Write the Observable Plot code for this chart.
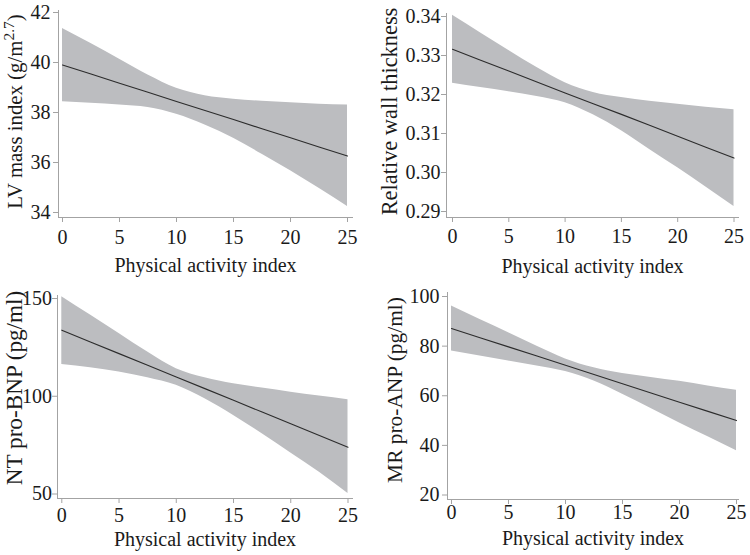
<!DOCTYPE html>
<html>
<head>
<meta charset="utf-8">
<script src="https://cdn.jsdelivr.net/npm/d3@7"></script>
<script src="https://cdn.jsdelivr.net/npm/@observablehq/plot@0.6"></script>
<style>
  html, body { margin: 0; padding: 0; background: #ffffff; }
  #wrap { position: relative; width: 750px; height: 555px; overflow: hidden; }
  .panel { position: absolute; }
</style>
</head>
<body>
<div id="wrap"></div>
<script>
// ---- data ----
const activity = [0, 2.5, 5, 7.5, 10, 12.5, 15, 17.5, 20, 22.5, 25];
const activityTicks = [0, 5, 10, 15, 20, 25];
const xLabel = "Physical activity index";

// LV mass index (g/m^2.7)
const lvmiFit   = [39.90, 39.54, 39.17, 38.81, 38.44, 38.08, 37.72, 37.35, 36.99, 36.62, 36.26];
const lvmiUpper = [41.36, 40.76, 40.13, 39.50, 38.97, 38.67, 38.53, 38.45, 38.39, 38.33, 38.30];
const lvmiLower = [38.43, 38.37, 38.30, 38.20, 37.93, 37.50, 36.97, 36.33, 35.67, 34.97, 34.24];
const lvmiTicks = [34, 36, 38, 40, 42];

// Relative wall thickness
const rwtFit   = [0.3316, 0.3288, 0.3260, 0.3232, 0.3204, 0.3176, 0.3149, 0.3121, 0.3093, 0.3065, 0.3037];
const rwtUpper = [0.3403, 0.3358, 0.3313, 0.3269, 0.3230, 0.3205, 0.3192, 0.3183, 0.3175, 0.3167, 0.3161];
const rwtLower = [0.3229, 0.3218, 0.3207, 0.3195, 0.3179, 0.3148, 0.3107, 0.3059, 0.3012, 0.2963, 0.2913];
const rwtTicks = [0.29, 0.30, 0.31, 0.32, 0.33, 0.34];

// NT pro-BNP (pg/ml)
const bnpFit   = [133.8, 127.8, 121.8, 115.8, 109.8, 103.9, 97.9, 91.9, 85.9, 79.9, 73.9];
const bnpUpper = [150.9, 141.5, 132.1, 122.6, 114.1, 109.5, 106.4, 104.2, 102.1, 100.1, 98.2];
const bnpLower = [116.3, 114.6, 112.4, 109.5, 105.6, 98.7, 90.2, 80.8, 71.0, 61.1, 50.3];
const bnpTicks = [50, 100, 150];

// MR pro-ANP (pg/ml)
const anpFit   = [87.1, 83.4, 79.7, 76.0, 72.3, 68.6, 64.8, 61.1, 57.4, 53.7, 50.0];
const anpUpper = [96.15, 90.75, 85.4, 79.9, 74.85, 71.25, 68.95, 67.35, 65.8, 63.95, 62.2];
const anpLower = [78.05, 76.05, 74.0, 72.0, 69.75, 65.95, 60.65, 54.85, 49.0, 43.45, 37.8];
const anpTicks = [20, 40, 60, 80, 100];

// ---- layout ----
const panels = [
  { fit: lvmiFit, upper: lvmiUpper, lower: lvmiLower, ticks: lvmiTicks, domain: [34, 42],
    ylabel: "LV mass index (g/m2.7)", fmt: d => String(d), ylabelSize: 20.8,
    left: 0, top: 0, width: 375, height: 277, ml: 58, mr: 23, mt: 10, mb: 60, il: 4, ir: 5, it: 2, ib: 5,
    xpad: 7, ypad: 3, ldx: -36.5, ldy: -2.5, xldy: 54.8 },
  { fit: rwtFit, upper: rwtUpper, lower: rwtLower, ticks: rwtTicks, domain: [0.29, 0.34],
    ylabel: "Relative wall thickness", fmt: d3.format(".2f"), ylabelSize: 22.4,
    left: 375, top: 0, width: 375, height: 277, ml: 71, mr: 12, mt: 13, mb: 60, il: 6, ir: 4.5, it: 3, ib: 6,
    xpad: 6, ypad: 1, ldx: -50, ldy: -4, xldy: 55.1 },
  { fit: bnpFit, upper: bnpUpper, lower: bnpLower, ticks: bnpTicks, domain: [50, 150],
    ylabel: "NT pro-BNP (pg/ml)", fmt: d => String(d), ylabelSize: 23.2,
    left: 0, top: 277, width: 375, height: 278, ml: 57, mr: 23, mt: 18, mb: 57, il: 4.3, ir: 4.5, it: 3, ib: 4.5,
    xpad: 4.5, ypad: 0.5, ldx: -36, ldy: -9, xldy: 47.5 },
  { fit: anpFit, upper: anpUpper, lower: anpLower, ticks: anpTicks, domain: [20, 100],
    ylabel: "MR pro-ANP (pg/ml)", fmt: d => String(d), ylabelSize: 21.4,
    left: 375, top: 277, width: 375, height: 278, ml: 72, mr: 12, mt: 15, mb: 56, il: 4, ir: 2, it: 4, ib: 4.5,
    xpad: 0.5, ypad: 3, ldx: -46, ldy: -6, xldy: 45.8 }
];

const FONT = "'Liberation Serif', 'Times New Roman', Times, serif";
const BAND = "#bcbdc0";
const LINE = "#2c2c2c";
const AXIS = "#a3a3a3";

const wrap = document.getElementById("wrap");

for (const p of panels) {
  const rows = activity.map((a, i) => ({ a, lo: p.lower[i], hi: p.upper[i], fit: p.fit[i] }));
  const chart = Plot.plot({
    width: p.width,
    height: p.height,
    marginLeft: p.ml, marginRight: p.mr, marginTop: p.mt, marginBottom: p.mb,
    style: { fontFamily: FONT, fontSize: "20px", background: "transparent", color: "#1a1a1a", overflow: "visible" },
    x: { domain: [0, 25], insetLeft: p.il, insetRight: p.ir, label: null },
    y: { domain: p.domain, insetTop: p.it, insetBottom: p.ib, label: null },
    marks: [
      Plot.areaY(rows, { x: "a", y1: "lo", y2: "hi", fill: BAND, curve: "monotone-x" }),
      Plot.lineY(rows, { x: "a", y: "fit", stroke: LINE, strokeWidth: 1.1 }),
      Plot.frame({ anchor: "left", stroke: AXIS }),
      Plot.frame({ anchor: "bottom", stroke: AXIS }),
      Plot.axisX({ ticks: activityTicks, tickSize: 5, tickPadding: p.xpad, stroke: AXIS, fontSize: 20, label: null, tickFormat: d => String(d) }),
      Plot.axisY({ ticks: p.ticks, tickSize: 5, tickPadding: p.ypad, stroke: AXIS, fontSize: 20, label: null, tickFormat: p.fmt }),
      Plot.text([p.ylabel], { text: d => d, frameAnchor: "left", rotate: -90, textAnchor: "middle", lineAnchor: "bottom",
        dx: p.ldx, dy: p.ldy, fontSize: p.ylabelSize, fill: "#1a1a1a" }),
      Plot.text([xLabel], { text: d => d, frameAnchor: "bottom", textAnchor: "middle", lineAnchor: "bottom",
        dy: p.xldy, fontSize: 20, fill: "#1a1a1a" })
    ]
  });
  const div = document.createElement("div");
  div.className = "panel";
  div.style.left = p.left + "px";
  div.style.top = p.top + "px";
  div.appendChild(chart);
  wrap.appendChild(div);

  // superscript for the exponent in "g/m2.7"
  chart.querySelectorAll("text").forEach(t => {
    if (t.textContent === "LV mass index (g/m2.7)") {
      const ns = "http://www.w3.org/2000/svg";
      while (t.firstChild) t.removeChild(t.firstChild);
      const a = document.createElementNS(ns, "tspan");
      a.textContent = "LV mass index (g/m";
      const b = document.createElementNS(ns, "tspan");
      b.textContent = "2.7";
      b.setAttribute("dy", "-8.5");
      b.setAttribute("font-size", "15.5");
      const c = document.createElementNS(ns, "tspan");
      c.textContent = ")";
      c.setAttribute("dy", "8.5");
      t.appendChild(a); t.appendChild(b); t.appendChild(c);
    }
  });
}
</script>
</body>
</html>
